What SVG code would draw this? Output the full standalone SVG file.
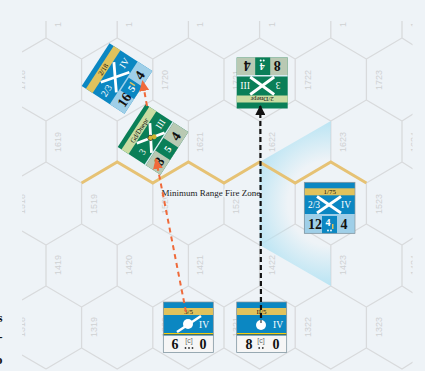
<svg xmlns="http://www.w3.org/2000/svg" width="425" height="371" viewBox="0 0 425 371">
<defs>
<clipPath id="gridclip"><rect x="22" y="21" width="390.6" height="350"/></clipPath>
<clipPath id="labelclip"><rect x="22" y="22" width="390.6" height="349"/></clipPath>
<radialGradient id="fz" gradientUnits="userSpaceOnUse" cx="331" cy="203" r="86">
<stop offset="0.5" stop-color="#b5e3f3" stop-opacity="0"/>
<stop offset="1" stop-color="#b5e3f3" stop-opacity="1"/>
</radialGradient>
<marker id="ao" markerWidth="11" markerHeight="10" refX="10" refY="5" orient="auto" markerUnits="userSpaceOnUse" viewBox="0 0 11 10"><path d="M0 0L11 5L0 10Z" fill="#ef6a3a"/></marker>
<marker id="ak" markerWidth="10" markerHeight="10" refX="9" refY="5" orient="auto" markerUnits="userSpaceOnUse" viewBox="0 0 10 10"><path d="M0 0L10 5L0 10Z" fill="#111"/></marker>
</defs>
<style>
.bg{fill:#eef3f7}
.hex{fill:none;stroke:#d8dadc;stroke-width:1.3}
.hl{font:9px "Liberation Sans",Arial,sans-serif;fill:#cfd1d3;text-anchor:middle}
.big{font:bold 14px "Liberation Serif",serif;text-anchor:middle;fill:#111}
.w{font:9.5px "Liberation Serif",serif;text-anchor:middle;fill:#fff}
.wb{font:bold 10px "Liberation Serif",serif;text-anchor:middle;fill:#fff}
.n{font:7px "Liberation Serif",serif;text-anchor:middle;fill:#111}
.x{stroke:#fff;stroke-width:2.8;fill:none}
.blue{fill:#0b87c2}.gold{fill:#e0c25c}.lb{fill:#9fcfe8}
.green{fill:#0a7f58}.pale{fill:#c9dca2}.gg{fill:#b9c9b3}
.wd{fill:#fff}
.edge{fill:none;stroke:#8a949a;stroke-width:.7}
.dy{fill:#e0c25c}
.lk{fill:#333}
.c{font:7px "Liberation Sans",sans-serif;text-anchor:middle;fill:#666}
.conn{fill:none;stroke-width:2;stroke-dasharray:5 4}
.blk{fill:none;stroke-width:2.2;stroke-dasharray:5 3}
</style>
<rect class="bg" width="425" height="371"/>
<g id="grid" clip-path="url(#gridclip)">
<path class="hex" d="M46 21V38L81.6 59V100L46 121V162L81.6 183V224L46 245V286L81.6 307V348L46 369M46 38L22 52M46 121L22 107M46 162L22 176M46 245L22 231M46 286L22 300M46 369L22 355M81.6 59L117.2 38V21M117.2 38L152.8 59V100L117.2 121L81.6 100M117.2 121V162M152.8 59L188.4 38V21M188.4 38L224 59V100L188.4 121L152.8 100M188.4 121V162M224 59L259.6 38V21M259.6 38L295.2 59V100L259.6 121L224 100M259.6 121V162M295.2 59L330.8 38V21M330.8 38L366.4 59V100L330.8 121L295.2 100M330.8 121V162M366.4 59L402 38V21M402 38L413 45M366.4 100L402 121L413 114M402 121V162L413 169M81.6 183L117.2 162L152.8 183V224L117.2 245L81.6 224M117.2 245V286L81.6 307M117.2 286L152.8 307V348L117.2 369L81.6 348M152.8 183L188.4 162L224 183V224L188.4 245L152.8 224M188.4 245V286L152.8 307M188.4 286L224 307V348L188.4 369L152.8 348M224 183L259.6 162L295.2 183V224L259.6 245L224 224M259.6 245V286L224 307M259.6 286L295.2 307V348L259.6 369L224 348M295.2 183L330.8 162L366.4 183V224L330.8 245L295.2 224M330.8 245V286L295.2 307M330.8 286L366.4 307V348L330.8 369L295.2 348M366.4 183L402 162M366.4 224L402 245L413 238M402 245V286L413 293M366.4 307L402 286M366.4 348L402 369L413 362"/>
</g>
<g id="labels" clip-path="url(#labelclip)">
<text class="hl" transform="translate(61 17) rotate(-90)">1819</text>
<text class="hl" transform="translate(132.2 17) rotate(-90)">1820</text>
<text class="hl" transform="translate(203.4 17) rotate(-90)">1821</text>
<text class="hl" transform="translate(274.6 17) rotate(-90)">1822</text>
<text class="hl" transform="translate(345.8 17) rotate(-90)">1823</text>
<text class="hl" transform="translate(417 17) rotate(-90)">1824</text>
<text class="hl" transform="translate(25.4 80) rotate(-90)">1718</text>
<text class="hl" transform="translate(97 80) rotate(-90)">1719</text>
<text class="hl" transform="translate(168.2 80) rotate(-90)">1720</text>
<text class="hl" transform="translate(239.4 80) rotate(-90)">1721</text>
<text class="hl" transform="translate(310.6 80) rotate(-90)">1722</text>
<text class="hl" transform="translate(381.8 80) rotate(-90)">1723</text>
<text class="hl" transform="translate(61 142) rotate(-90)">1619</text>
<text class="hl" transform="translate(132.2 142) rotate(-90)">1620</text>
<text class="hl" transform="translate(203.4 142) rotate(-90)">1621</text>
<text class="hl" transform="translate(274.6 142) rotate(-90)">1622</text>
<text class="hl" transform="translate(345.8 142) rotate(-90)">1623</text>
<text class="hl" transform="translate(417 142) rotate(-90)">1624</text>
<text class="hl" transform="translate(25.4 204) rotate(-90)">1518</text>
<text class="hl" transform="translate(97 204) rotate(-90)">1519</text>
<text class="hl" transform="translate(168.2 204) rotate(-90)">1520</text>
<text class="hl" transform="translate(239.4 204) rotate(-90)">1521</text>
<text class="hl" transform="translate(310.6 204) rotate(-90)">1522</text>
<text class="hl" transform="translate(381.8 204) rotate(-90)">1523</text>
<text class="hl" transform="translate(61 265) rotate(-90)">1419</text>
<text class="hl" transform="translate(132.2 265) rotate(-90)">1420</text>
<text class="hl" transform="translate(203.4 265) rotate(-90)">1421</text>
<text class="hl" transform="translate(274.6 265) rotate(-90)">1422</text>
<text class="hl" transform="translate(345.8 265) rotate(-90)">1423</text>
<text class="hl" transform="translate(417 265) rotate(-90)">1424</text>
<text class="hl" transform="translate(25.4 327) rotate(-90)">1318</text>
<text class="hl" transform="translate(97 327) rotate(-90)">1319</text>
<text class="hl" transform="translate(168.2 327) rotate(-90)">1320</text>
<text class="hl" transform="translate(239.4 327) rotate(-90)">1321</text>
<text class="hl" transform="translate(310.6 327) rotate(-90)">1322</text>
<text class="hl" transform="translate(381.8 327) rotate(-90)">1323</text>
</g>
<polygon id="firezone" points="259.6,162 330.8,121 330.8,286 259.6,245" fill="url(#fz)"/>
<path id="ridge" d="M81.6 183L117.2 162L152.8 183L188.4 162L224 183L259.6 162L295.2 183L330.8 162L366.4 183" fill="none" stroke="#e6c274" stroke-width="3"/>
<g id="zone-label">
<text x="161.5" y="196" font-family="Liberation Serif" font-size="9" fill="#222" stroke="#eef3f7" stroke-width="3" paint-order="stroke" stroke-linejoin="round">Minimum Range Fire Zone</text>
</g>
<g id="margin-text" font-family="Liberation Serif" font-size="13" font-weight="bold" fill="#111" text-anchor="end">
<text x="2.5" y="322">s</text>
<text x="2.5" y="341">-</text>
<text x="2.5" y="364">o</text>
</g>
<g id="unit-2-18" transform="translate(117 78.5) rotate(-57)">
<rect class="blue" x="-25.5" y="-25.5" width="51" height="51"/>
<rect class="gold" x="-25.5" y="-20.5" width="51" height="8"/>
<rect class="lb" x="-25.5" y="8" width="51" height="17.5"/>
<rect class="blue" x="-8" y="9.5" width="15" height="16"/>
<path class="x" d="M-12 -11.5L12 7M12 -11.5L-12 7"/>
<text class="n" y="-14">2/18</text>
<text class="w" x="-16" y="1">2/3</text>
<text class="w" x="17" y="1">IV</text>
<text class="big" x="-14" y="22.5">16</text>
<text class="wb" x="-0.5" y="21">5</text>
<rect class="dy" x="3" y="13" width="1.5" height="6"/>
<text class="big" x="15" y="22">4</text>
</g>
<g id="unit-gd-dnepr" transform="translate(153 139.5) rotate(-57)">
<rect class="green" x="-25.5" y="-25.5" width="51" height="51"/>
<rect class="pale" x="-25.5" y="-21" width="51" height="8.5"/>
<rect fill="#d8ecf2" x="-25.5" y="6.5" width="51" height="1.5"/>
<rect class="gg" x="-25.5" y="8" width="51" height="17.5"/>
<rect class="green" x="-8" y="8" width="15" height="17.5"/>
<path class="x" d="M-12 -11.5L12 6M12 -11.5L-12 6"/>
<text class="n" y="-14">Gd/Dnepr</text>
<text class="w" x="-16" y="1">3</text>
<text class="w" x="17" y="1">III</text>
<circle cx="0" cy="-3" r="2.6" fill="#d2b531" stroke="#222" stroke-width=".7"/>
<circle cx="3" cy="-0.5" r="2.4" fill="#d2b531"/>
<text class="big" x="-15" y="22">8</text>
<text class="wb" x="0" y="21">5</text>
<text class="big" x="15" y="22">4</text>
</g>
<g id="unit-top" transform="translate(262.2 83) rotate(180)">
<rect class="green" x="-25.5" y="-25.5" width="51" height="51"/>
<rect class="pale" x="-25.5" y="-19.5" width="51" height="7"/>
<rect fill="#d8ecf2" x="-25.5" y="6.5" width="51" height="1.5"/>
<rect class="gg" x="-25.5" y="8" width="51" height="17.5"/>
<rect class="green" x="-8" y="8" width="15" height="17.5"/>
<path class="x" d="M-12 -11.5L12 6M12 -11.5L-12 6"/>
<text class="n" y="-14">2/Dnepr</text>
<text class="w" x="-16" y="1">3</text>
<text class="w" x="17" y="1">III</text>
<text class="big" x="-15" y="22">8</text>
<text class="wb" x="0" y="20">4</text>
<circle class="wd" cx="-1.5" cy="22.5" r="1"/><circle class="wd" cx="1.5" cy="22.5" r="1"/>
<text class="big" x="15" y="22">4</text>
</g>
<g id="unit-1-75">
<rect class="blue" x="304.3" y="182.3" width="50.7" height="51"/>
<rect class="gold" x="304.3" y="188.3" width="50.7" height="7"/>
<rect class="lb" x="304.3" y="214" width="50.7" height="19.3"/>
<rect class="blue" x="322" y="216" width="15" height="17.3"/>
<path class="x" d="M317 196.5L341 213M341 196.5L317 213"/>
<text class="n" x="329.7" y="194">1/75</text>
<text class="w" x="314" y="208">2/3</text>
<text class="w" x="346" y="208">IV</text>
<text class="big" x="315" y="229">12</text>
<text class="wb" x="328" y="226">4</text>
<rect class="dy" x="332" y="224" width="1.5" height="5"/>
<circle class="wd" cx="328" cy="230.5" r=".9"/><circle class="wd" cx="331" cy="230.5" r=".9"/>
<text class="big" x="344" y="229">4</text>
<rect class="edge" x="304.3" y="182.3" width="50.7" height="51"/>
</g>
<g id="unit-3-5">
<rect class="blue" x="163.3" y="302" width="50" height="50.5"/>
<rect class="gold" x="163.3" y="308" width="50" height="7"/>
<rect fill="#f2cc10" x="163.3" y="333" width="50" height="1.5"/>
<rect fill="#0a3a5a" x="163.3" y="334.5" width="50" height="1"/>
<rect fill="#f6f6f6" x="163.3" y="335.5" width="50" height="17"/>
<path stroke="#fff" stroke-width="2.4" d="M177 332L201 316"/>
<circle cx="188" cy="324" r="5" fill="#fff"/>
<text class="w" x="204" y="328">IV</text>
<text class="n" x="188.5" y="314">3/5</text>
<text class="big" x="175" y="349">6</text>
<text class="c" x="189" y="343">[c]</text>
<circle class="lk" cx="185.5" cy="348" r=".9"/><circle class="lk" cx="189" cy="348" r=".9"/><circle class="lk" cx="192.5" cy="348" r=".9"/>
<text class="big" x="203" y="349">0</text>
<rect class="edge" x="163.3" y="302" width="50" height="50.5"/>
</g>
<g id="unit-ii-5">
<rect class="blue" x="236.7" y="302" width="50" height="50.5"/>
<rect class="gold" x="236.7" y="308" width="50" height="7"/>
<rect fill="#f2cc10" x="236.7" y="333" width="50" height="1.5"/>
<rect fill="#0a3a5a" x="236.7" y="334.5" width="50" height="1"/>
<rect fill="#f6f6f6" x="236.7" y="335.5" width="50" height="17"/>
<circle cx="261" cy="325" r="5" fill="#fff"/>
<path stroke="#111" stroke-width="1" d="M261 320V323"/>
<text class="w" x="278" y="328">IV</text>
<text class="n" x="261.5" y="314">II/5</text>
<text class="big" x="249" y="349">8</text>
<text class="c" x="261" y="343">[c]</text>
<circle class="lk" cx="259.2" cy="348" r=".9"/><circle class="lk" cx="262.8" cy="348" r=".9"/>
<text class="big" x="276" y="349">0</text>
<rect class="edge" x="236.7" y="302" width="50" height="50.5"/>
</g>
<g id="connectors">
<path class="conn" stroke="#ef6a3a" marker-end="url(#ao)" d="M186 312L156 159"/>
<path class="conn" stroke="#ef6a3a" marker-end="url(#ao)" d="M147 106L142.5 81"/>
<path class="blk" stroke="#111" marker-end="url(#ak)" d="M261 318L260.3 106"/>
</g>
</svg>
